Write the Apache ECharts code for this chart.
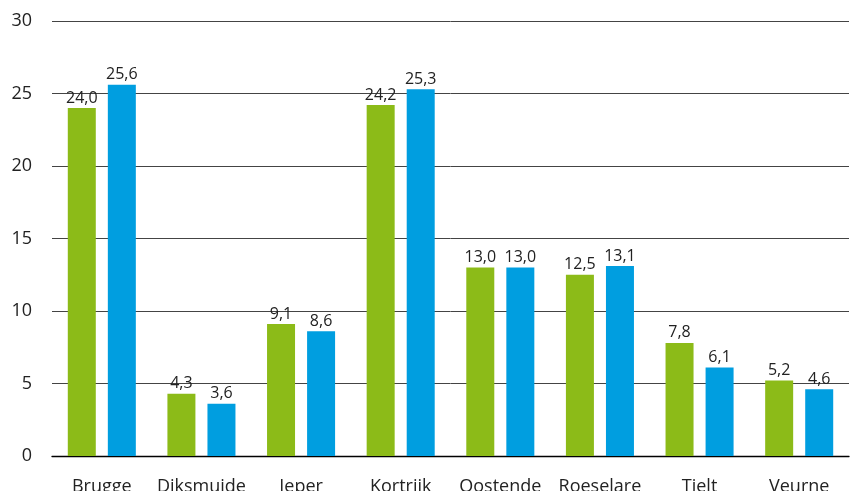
<!DOCTYPE html>
<html><head><meta charset="utf-8">
<script src="https://cdn.jsdelivr.net/npm/echarts@6/dist/echarts.min.js"></script>
<style>html,body{margin:0;padding:0;background:#fff}#c{width:854px;height:491px}</style>
</head><body><div id="c"></div>
<script>
const categories = ['Brugge','Diksmuide','Ieper','Kortrijk','Oostende','Roeselare','Tielt','Veurne'];
const seriesA = [24.0, 4.3, 9.1, 24.2, 13.0, 12.5, 7.8, 5.2];
const seriesB = [25.6, 3.6, 8.6, 25.3, 13.0, 13.1, 6.1, 4.6];
const yTicks = [0, 5, 10, 15, 20, 25, 30];

const fmt = v => v.toFixed(1).replace('.', ',');
const font = 'Open Sans';
const chart = echarts.init(document.getElementById('c'));
const lbl = {show:true, position:'top', distance:2, color:'#222', fontFamily:font, fontSize:16, formatter:p=>fmt(p.value)};
chart.setOption({
  animation:false,
  grid:{left:52, right:5, top:21, bottom:35, outerBoundsMode:'none', containLabel:false},
  xAxis:{type:'category', data:categories,
    axisLine:{lineStyle:{color:'#000', width:1.3}}, axisTick:{show:false},
    axisLabel:{interval:0, color:'#222', fontFamily:font, fontSize:18, margin:22}},
  yAxis:{type:'value', min:yTicks[0], max:yTicks[yTicks.length-1], interval:5,
    axisLine:{show:false}, axisTick:{show:false},
    axisLabel:{color:'#222', fontFamily:font, fontSize:18, margin:20},
    splitLine:{lineStyle:{color:'#444', width:1}}},
  series:[
    {type:'bar', data:seriesA, barWidth:28, barGap:'43%', itemStyle:{color:'#8cbb18'}, label:lbl},
    {type:'bar', data:seriesB, barWidth:28, itemStyle:{color:'#009ee0'}, label:lbl}
  ]
});
</script></body></html>
